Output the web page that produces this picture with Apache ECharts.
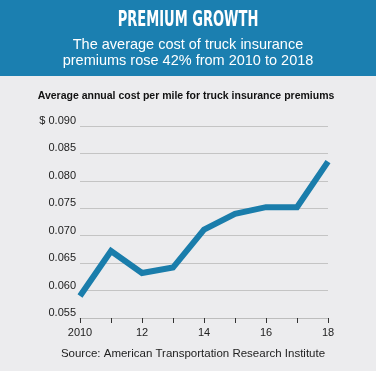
<!DOCTYPE html>
<html><head><meta charset="utf-8">
<script src="https://cdn.jsdelivr.net/npm/echarts@6/dist/echarts.min.js"></script>
<style>html,body{margin:0;padding:0;background:#ececee}#c{width:376px;height:371px}</style>
</head><body><div id="c"></div>
<script>
const years = [2010, 2011, 2012, 2013, 2014, 2015, 2016, 2017, 2018];
const costPerMile = [0.059, 0.0672, 0.0632, 0.0642, 0.0711, 0.074, 0.0752, 0.0752, 0.0835];
const yTicks = [0.055, 0.060, 0.065, 0.070, 0.075, 0.080, 0.085, 0.090];
const xLabels = {2010: '2010', 2012: '12', 2014: '14', 2016: '16', 2018: '18'};
const titleText = 'PREMIUM GROWTH';
const subtitleLines = ['The average cost of truck insurance', 'premiums rose 42% from 2010 to 2018'];
const chartTitle = 'Average annual cost per mile for truck insurance premiums';
const sourceText = 'Source: American Transportation Research Institute';

const chart = echarts.init(document.getElementById('c'), null, {renderer: 'canvas'});
chart.setOption({
  backgroundColor: '#ececee',
  animation: false,
  graphic: [
    {type: 'rect', left: 0, top: 0, shape: {width: 376, height: 76}, style: {fill: '#1b7fb0'}, z: 0},
    {type: 'text', x: 188, y: 20, scaleX: 0.66,
      style: {text: titleText, fill: '#ffffff', font: 'bold 22px "DejaVu Sans Condensed", "DejaVu Sans"', align: 'center', verticalAlign: 'middle'}},
    {type: 'text', x: 188, y: 45, style: {text: subtitleLines[0], fill: '#ffffff', font: '14.5px "Liberation Sans", Arial', align: 'center', verticalAlign: 'middle'}},
    {type: 'text', x: 188, y: 61, style: {text: subtitleLines[1], fill: '#ffffff', font: '14.5px "Liberation Sans", Arial', align: 'center', verticalAlign: 'middle'}},
    {type: 'text', x: 186, y: 96, style: {text: chartTitle, fill: '#111111', font: 'bold 10.5px "Liberation Sans", Arial', align: 'center', verticalAlign: 'middle'}},
    {type: 'text', x: 193, y: 354, style: {text: sourceText, fill: '#222222', font: '11.5px "Liberation Sans", Arial', align: 'center', verticalAlign: 'middle'}}
  ],
  grid: {left: 80, right: 48, top: 126, bottom: 53, containLabel: false},
  xAxis: {
    type: 'value', min: 2010, max: 2018, interval: 1,
    axisLine: {show: true, lineStyle: {color: '#bdbdbd', width: 1}},
    axisTick: {show: true, length: 5, lineStyle: {color: '#333333', width: 1}},
    axisLabel: {color: '#222222', fontSize: 11, fontFamily: '"Liberation Sans", Arial', margin: 9,
      formatter: v => xLabels[v] || ''},
    splitLine: {show: false}
  },
  yAxis: {
    type: 'value', min: yTicks[0], max: yTicks[yTicks.length - 1], interval: 0.005,
    axisLine: {show: false}, axisTick: {show: false},
    axisLabel: {color: '#222222', fontSize: 11, fontFamily: '"Liberation Sans", Arial', margin: 4,
      verticalAlign: 'bottom', lineHeight: 10,
      formatter: v => (Math.abs(v - 0.09) < 1e-9 ? '$ ' : '') + v.toFixed(3)},
    splitLine: {show: true, lineStyle: {color: '#c4c4c4', width: 1}}
  },
  series: [{
    type: 'line',
    data: years.map((y, i) => [y, costPerMile[i]]),
    symbol: 'none',
    lineStyle: {color: '#1a7dab', width: 6, join: 'miter', cap: 'butt'},
    z: 3
  }]
});
</script></body></html>
